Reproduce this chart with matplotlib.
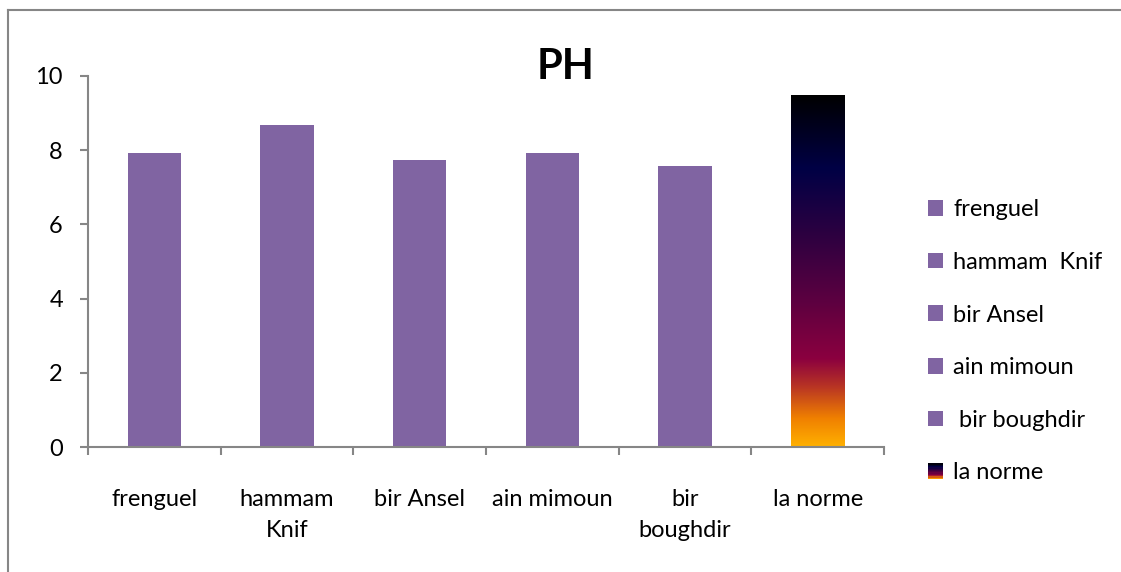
import matplotlib
matplotlib.use("Agg")
import matplotlib.pyplot as plt
import numpy as np
from matplotlib.colors import LinearSegmentedColormap
from matplotlib.legend_handler import HandlerBase
from matplotlib.patches import Patch, Rectangle
from matplotlib.lines import Line2D

plt.rcParams['font.family'] = ['Lato', 'DejaVu Sans']

# data
sites = ["frenguel", "hammam\nKnif", "bir Ansel", "ain mimoun", "bir\nboughdir", "la norme"]
legend_names = ["frenguel", "hammam  Knif", "bir Ansel", "ain mimoun", " bir boughdir", "la norme"]
ph_values = [7.92, 8.68, 7.74, 7.92, 7.58, 9.5]
y_ticks = [0, 2, 4, 6, 8, 10]

purple = "#8064A2"
axis_grey = "#868686"

# gradient used for "la norme" (bottom -> top)
norme_cmap = LinearSegmentedColormap.from_list("norme", [
    (0.00, "#FFB000"),
    (0.08, "#F08000"),
    (0.17, "#B83424"),
    (0.25, "#8B003F"),
    (0.40, "#600040"),
    (0.58, "#320040"),
    (0.79, "#000045"),
    (1.00, "#000000"),
])


class GradientHandler(HandlerBase):
    def create_artists(self, legend, orig_handle, xdescent, ydescent, width, height, fontsize, trans):
        n = 12
        strips = []
        for i in range(n):
            r = Rectangle((-xdescent, -ydescent + height * i / n), width, height / n,
                          facecolor=norme_cmap((i + 0.5) / n), edgecolor="none", transform=trans)
            strips.append(r)
        return strips


fig = plt.figure(figsize=(11.21, 5.72), dpi=100)
ax = fig.add_axes([88 / 1121, 1 - 447 / 572, (884 - 88) / 1121, (447 - 76) / 572])

x = np.arange(len(sites))
bars = ax.bar(x, ph_values, width=0.4, color=purple)

# gradient fill on the last bar
norme_bar = bars[-1]
norme_bar.set_facecolor("none")
grad = np.linspace(0, 1, 256).reshape(-1, 1)
bx, bw, bh = norme_bar.get_x(), norme_bar.get_width(), norme_bar.get_height()
img = ax.imshow(grad, cmap=norme_cmap, origin="lower", aspect="auto",
                extent=[bx, bx + bw, 0, bh], zorder=norme_bar.get_zorder())
img.set_clip_path(norme_bar)

ax.set_xlim(-0.5, len(sites) - 0.5)
ax.set_ylim(0, 10)
ax.set_yticks(y_ticks)
ax.set_xticks(x)
ax.set_xticklabels(sites, linespacing=1.62)
ax.set_xticks(np.arange(len(sites) + 1) - 0.5, minor=True)

for side in ["top", "right"]:
    ax.spines[side].set_visible(False)
for side in ["left", "bottom"]:
    ax.spines[side].set_color(axis_grey)
    ax.spines[side].set_linewidth(1.5)

ax.tick_params(axis="y", length=6, width=1.5, color=axis_grey, pad=12, labelsize=17)
ax.tick_params(axis="x", which="major", length=0, pad=30, labelsize=17)
ax.tick_params(axis="x", which="minor", length=6, width=1.5, color=axis_grey)
for lbl in ax.get_xticklabels():
    lbl.set_verticalalignment("top")

fig.text(566 / 1121, 1 - 67 / 572, "PH", ha="center", va="center", fontsize=30, fontweight="bold")

handles = [Patch(facecolor=purple) for _ in legend_names[:-1]] + [Patch(facecolor="black")]
leg = fig.legend(handles, legend_names, loc="upper left", bbox_to_anchor=(907 / 1121, 1 - 178 / 572),
                 frameon=False, fontsize=17, handlelength=0.64, handleheight=0.64,
                 handletextpad=0.42, labelspacing=1.34,
                 handler_map={handles[-1]: GradientHandler()})

# chart-area outline (top and left edges only, as in the original crop)
fig.add_artist(Line2D([8 / 1121, 8 / 1121], [0, 1 - 10 / 572], transform=fig.transFigure,
                      color=axis_grey, linewidth=1.5))
fig.add_artist(Line2D([8 / 1121, 1], [1 - 10 / 572, 1 - 10 / 572], transform=fig.transFigure,
                      color=axis_grey, linewidth=1.5))

fig.savefig("out.png", dpi=100)
